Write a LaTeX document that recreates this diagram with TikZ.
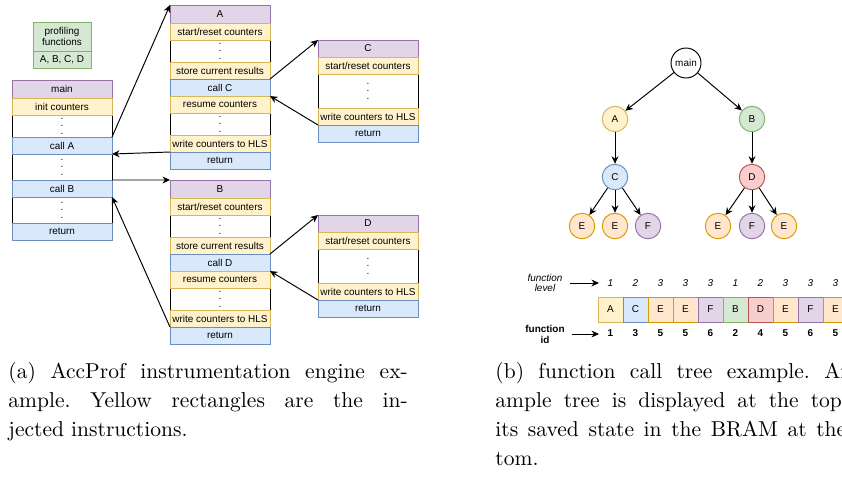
\documentclass[tikz,border=0pt]{standalone}
\usepackage{fontspec}
\setsansfont{Liberation Sans}
\usetikzlibrary{positioning,arrows.meta,backgrounds}

\definecolor{yelfill}{HTML}{FFF2CC}\definecolor{yelline}{HTML}{D6B656}
\definecolor{blufill}{HTML}{DAE8FC}\definecolor{bluline}{HTML}{6C8EBF}
\definecolor{purfill}{HTML}{E1D5E7}\definecolor{purline}{HTML}{9673A6}
\definecolor{grnfill}{HTML}{D5E8D4}\definecolor{grnline}{HTML}{82B366}
\definecolor{redfill}{HTML}{F8CECC}\definecolor{redline}{HTML}{B85450}
\definecolor{orgfill}{HTML}{FFE6CC}\definecolor{orgline}{HTML}{D79B00}

\newcommand{\pxu}{0.4645pt}
\newcommand{\dfont}{\sffamily\fontsize{4.62}{5.3}\selectfont}

\tikzset{
    cell/.style={draw, inner sep=0pt, outer sep=0pt, line width=0.45pt,
        minimum width=100*\pxu, minimum height=17*\pxu, font=\dfont},
    head/.style={cell, fill=purfill, draw=purline, minimum height=18*\pxu},
    inj/.style={cell, fill=yelfill, draw=yelline},
    call/.style={cell, fill=blufill, draw=bluline},
    gap/.style={cell, draw=none, align=center, font=\sffamily\fontsize{4.62}{3.5}\selectfont},
    link/.style={-{Stealth[length=3.5pt,width=3.2pt]}, line width=0.45pt},
    fn/.style={circle, draw, inner sep=0pt, line width=0.45pt, minimum size=25.5*\pxu, font=\dfont},
    slot/.style={draw, inner sep=0pt, outer sep=0pt, line width=0.45pt, minimum size=25*\pxu, font=\dfont},
    capt/.style={anchor=north west, inner sep=0pt, text width=185.5pt, align=justify,
        font=\fontsize{10}{13.5}\selectfont\frenchspacing}
}

\begin{document}
\begin{tikzpicture}[x=\pxu, y=-\pxu]
    \useasboundingbox (0,0) rectangle (842,477);
    \clip (0,0) rectangle (842,477);

    % profiling functions
    \node[cell, fill=grnfill, draw=grnline, minimum width=58*\pxu, minimum height=29*\pxu, align=center] (prof) at (62,36.5) {profiling\\functions};
    \node[cell, fill=grnfill, draw=grnline, minimum width=58*\pxu, below=0pt of prof] (proflist) {A, B, C, D};

    % main
    \node[head] (main) at (62,89) {main};
    \node[inj, below=0pt of main] (Minit) {init counters};
    \node[gap, below=0pt of Minit, minimum height=22*\pxu] (Mgap1) {.\\.\\.};
    \node[call, below=0pt of Mgap1] (McallA) {call A};
    \node[gap, below=0pt of McallA, minimum height=26*\pxu] (Mgap2) {.\\.\\.};
    \node[call, below=0pt of Mgap2] (McallB) {call B};
    \node[gap, below=0pt of McallB, minimum height=26*\pxu] (Mgap3) {.\\.\\.};
    \node[call, below=0pt of Mgap3] (Mret) {return};

    % A
    \node[head] (A) at (220,14) {A};
    \node[inj, below=0pt of A] (Astart) {start/reset counters};
    \node[gap, below=0pt of Astart, minimum height=22*\pxu] (Agap1) {.\\.\\.};
    \node[inj, below=0pt of Agap1] (Astore) {store current results};
    \node[call, below=0pt of Astore] (AcallC) {call C};
    \node[inj, below=0pt of AcallC] (Aresume) {resume counters};
    \node[gap, below=0pt of Aresume, minimum height=22*\pxu] (Agap2) {.\\.\\.};
    \node[inj, below=0pt of Agap2] (Awrite) {write counters to HLS};
    \node[call, below=0pt of Awrite] (Aret) {return};

    % B
    \node[head] (B) at (220,189) {B};
    \node[inj, below=0pt of B] (Bstart) {start/reset counters};
    \node[gap, below=0pt of Bstart, minimum height=22*\pxu] (Bgap1) {.\\.\\.};
    \node[inj, below=0pt of Bgap1] (Bstore) {store current results};
    \node[call, below=0pt of Bstore] (BcallD) {call D};
    \node[inj, below=0pt of BcallD] (Bresume) {resume counters};
    \node[gap, below=0pt of Bresume, minimum height=22*\pxu] (Bgap2) {.\\.\\.};
    \node[inj, below=0pt of Bgap2] (Bwrite) {write counters to HLS};
    \node[call, below=0pt of Bwrite] (Bret) {return};

    % C
    \node[head, minimum height=17*\pxu] (C) at (368,48.5) {C};
    \node[inj, below=0pt of C] (Cstart) {start/reset counters};
    \node[gap, below=0pt of Cstart, minimum height=34*\pxu] (Cgap) {.\\.\\.};
    \node[inj, below=0pt of Cgap] (Cwrite) {write counters to HLS};
    \node[call, below=0pt of Cwrite] (Cret) {return};

    % D
    \node[head, minimum height=17*\pxu] (D) at (368,223.5) {D};
    \node[inj, below=0pt of D] (Dstart) {start/reset counters};
    \node[gap, below=0pt of Dstart, minimum height=34*\pxu] (Dgap) {.\\.\\.};
    \node[inj, below=0pt of Dgap] (Dwrite) {write counters to HLS};
    \node[call, below=0pt of Dwrite] (Dret) {return};

    \begin{scope}[on background layer]
        \draw[line width=0.45pt] (main.south west) rectangle (Mret.south east);
        \draw[line width=0.45pt] (A.south west) rectangle (Aret.south east);
        \draw[line width=0.45pt] (B.south west) rectangle (Bret.south east);
        \draw[line width=0.45pt] (C.south west) rectangle (Cret.south east);
        \draw[line width=0.45pt] (D.south west) rectangle (Dret.south east);
    \end{scope}

    \draw[link] (McallA.north east) -- (A.north west);
    \draw[link] (Awrite.south west) -- (McallA.south east);
    \draw[link] (McallB.north east) -- (B.north west);
    \draw[link] (Bwrite.south west) -- (McallB.south east);
    \draw[link] (Astore.south east) -- (C.north west);
    \draw[link] (Cwrite.south west) -- (AcallC.south east);
    \draw[link] (Bstore.south east) -- (D.north west);
    \draw[link] (Dwrite.south west) -- (BcallD.south east);

    % call tree
    \node[fn, minimum size=30*\pxu, fill=white] (tmain) at (686,63) {main};
    \node[fn, fill=yelfill, draw=yelline] (tA) at (615,119) {A};
    \node[fn, fill=grnfill, draw=grnline] (tB) at (752,119) {B};
    \node[fn, fill=blufill, draw=bluline] (tC) at (615,177) {C};
    \node[fn, fill=redfill, draw=redline] (tD) at (752,177) {D};
    \node[fn, fill=orgfill, draw=orgline] (tE1) at (582,226) {E};
    \node[fn, fill=orgfill, draw=orgline] (tE2) at (615,226) {E};
    \node[fn, fill=purfill, draw=purline] (tF1) at (648,226) {F};
    \node[fn, fill=orgfill, draw=orgline] (tE3) at (718,226) {E};
    \node[fn, fill=purfill, draw=purline] (tF2) at (752,226) {F};
    \node[fn, fill=orgfill, draw=orgline] (tE4) at (784,226) {E};

    \draw[link] (tmain) -- (tA);
    \draw[link] (tmain) -- (tB);
    \draw[link] (tA) -- (tC);
    \draw[link] (tB) -- (tD);
    \draw[link] (tC) -- (tE1);
    \draw[link] (tC) -- (tE2);
    \draw[link] (tC) -- (tF1);
    \draw[link] (tD) -- (tE3);
    \draw[link] (tD) -- (tF2);
    \draw[link] (tD) -- (tE4);

    % BRAM
    \node[slot, fill=yelfill, draw=yelline] (s1) at (610.5,309.5) {A};
    \node[slot, fill=blufill, draw=bluline, right=0pt of s1] (s2) {C};
    \node[slot, fill=orgfill, draw=orgline, right=0pt of s2] (s3) {E};
    \node[slot, fill=orgfill, draw=orgline, right=0pt of s3] (s4) {E};
    \node[slot, fill=purfill, draw=purline, right=0pt of s4] (s5) {F};
    \node[slot, fill=grnfill, draw=grnline, right=0pt of s5] (s6) {B};
    \node[slot, fill=redfill, draw=redline, right=0pt of s6] (s7) {D};
    \node[slot, fill=orgfill, draw=orgline, right=0pt of s7] (s8) {E};
    \node[slot, fill=purfill, draw=purline, right=0pt of s8] (s9) {F};
    \node[slot, fill=orgfill, draw=orgline, right=0pt of s9] (s10) {E};

    \node[font=\dfont\itshape] (l1) at (610.5,283) {1};
    \node[font=\dfont\itshape] (l2) at (635.5,283) {2};
    \node[font=\dfont\itshape] (l3) at (660.5,283) {3};
    \node[font=\dfont\itshape] (l4) at (685.5,283) {3};
    \node[font=\dfont\itshape] (l5) at (710.5,283) {3};
    \node[font=\dfont\itshape] (l6) at (735.5,283) {1};
    \node[font=\dfont\itshape] (l7) at (760.5,283) {2};
    \node[font=\dfont\itshape] (l8) at (785.5,283) {3};
    \node[font=\dfont\itshape] (l9) at (810.5,283) {3};
    \node[font=\dfont\itshape] (l10) at (835.5,283) {3};

    \node[font=\dfont\bfseries] (i1) at (610.5,333) {1};
    \node[font=\dfont\bfseries] (i2) at (635.5,333) {3};
    \node[font=\dfont\bfseries] (i3) at (660.5,333) {5};
    \node[font=\dfont\bfseries] (i4) at (685.5,333) {5};
    \node[font=\dfont\bfseries] (i5) at (710.5,333) {6};
    \node[font=\dfont\bfseries] (i6) at (735.5,333) {2};
    \node[font=\dfont\bfseries] (i7) at (760.5,333) {4};
    \node[font=\dfont\bfseries] (i8) at (785.5,333) {5};
    \node[font=\dfont\bfseries] (i9) at (810.5,333) {6};
    \node[font=\dfont\bfseries] (i10) at (835.5,333) {5};

    \node[font=\sffamily\itshape\fontsize{4.62}{4.9}\selectfont, align=center] (flevel) at (545,283) {function\\level};
    \coordinate (lvtip) at (599,283);
    \draw[link] (flevel.east) -- (lvtip);
    \node[font=\sffamily\bfseries\fontsize{4.62}{5.1}\selectfont, align=center] (fid) at (545,334) {function\\id};
    \coordinate (idtip) at (599,334);
    \draw[link] (fid.east) -- (idtip);

    % captions
    \node[capt] (capa) at (8,362) {(a) AccProf instrumentation engine ex-\linebreak ample. Yellow rectangles are the in-\linebreak jected instructions.};
    \node[capt] (capb) at (495,362) {(b) function call tree example. An ex-\linebreak ample tree is displayed at the top, and\linebreak its saved state in the BRAM at the bot-\linebreak tom.};
\end{tikzpicture}
\end{document}
